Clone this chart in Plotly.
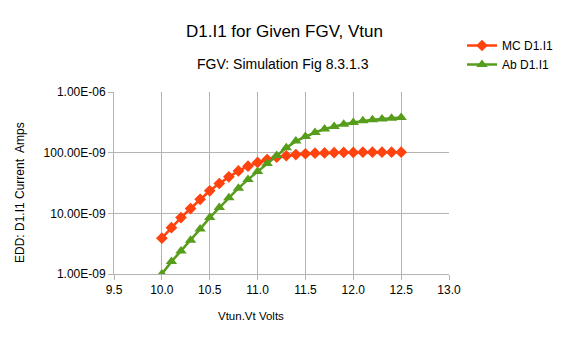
import plotly.graph_objects as go

vtun = [10.0, 10.1, 10.2, 10.3, 10.4, 10.5, 10.6, 10.7, 10.8, 10.9, 11.0, 11.1, 11.2,
        11.3, 11.4, 11.5, 11.6, 11.7, 11.8, 11.9, 12.0, 12.1, 12.2, 12.3, 12.4, 12.5]
mc_i1 = [3.9e-9, 5.8e-9, 8.5e-9, 1.2e-8, 1.7e-8, 2.35e-8, 3.1e-8, 4.0e-8, 5.0e-8, 6.0e-8,
         6.9e-8, 7.7e-8, 8.4e-8, 8.9e-8, 9.3e-8, 9.6e-8, 9.8e-8, 9.9e-8, 1.0e-7, 1.01e-7,
         1.01e-7, 1.02e-7, 1.02e-7, 1.02e-7, 1.02e-7, 1.02e-7]
ab_i1 = [1.0e-9, 1.6e-9, 2.4e-9, 3.6e-9, 5.5e-9, 8.5e-9, 1.25e-8, 1.8e-8, 2.6e-8, 3.6e-8,
         4.9e-8, 6.6e-8, 9.0e-8, 1.2e-7, 1.55e-7, 1.85e-7, 2.15e-7, 2.45e-7, 2.7e-7, 2.95e-7,
         3.15e-7, 3.35e-7, 3.5e-7, 3.6e-7, 3.7e-7, 3.8e-7]
y_tickvals = [1e-9, 1e-8, 1e-7, 1e-6]
y_ticktext = ["1.00E-09", "10.00E-09", "100.00E-09", "1.00E-06"]

FONT = "Liberation Sans, Arial, sans-serif"
grid = "#b3b3b3"

# plot area in pixels
pl, pr, pt, pb = 114, 449, 92, 274


def px_x(x):
    return (x - pl) / (pr - pl)


def px_y(y):
    return (pb - y) / (pb - pt)


fig = go.Figure()
fig.add_trace(go.Scatter(x=vtun, y=mc_i1, name="MC D1.I1", mode="lines+markers",
                         line=dict(color="#ff420e", width=2.5),
                         marker=dict(symbol="diamond", size=9, color="#ff420e")))
fig.add_trace(go.Scatter(x=vtun, y=ab_i1, name="Ab D1.I1", mode="lines+markers",
                         line=dict(color="#579d1c", width=2.5),
                         marker=dict(symbol="triangle-up", size=10, color="#579d1c")))

ann = [
    ("D1.I1 for Given FGV, Vtun", 284, 31, 17, 0),
    ("FGV: Simulation Fig 8.3.1.3", 283, 64, 14, 0),
    ("Vtun.Vt Volts", 251, 316, 11.5, 0),
    ("EDD: D1.I1 Current  Amps", 20, 193, 12, -90),
]
annotations = [dict(text=t, x=px_x(x), y=px_y(y), xref="paper", yref="paper",
                    xanchor="center", yanchor="middle", showarrow=False,
                    textangle=ang, font=dict(size=s))
               for t, x, y, s, ang in ann]

fig.update_layout(
    width=571, height=340,
    margin=dict(l=pl, r=571 - pr, t=pt, b=340 - pb),
    paper_bgcolor="white", plot_bgcolor="white",
    font=dict(family=FONT, size=12, color="#000000"),
    showlegend=True,
    legend=dict(x=px_x(462), y=px_y(31), xanchor="left", yanchor="top",
                font=dict(size=12), itemwidth=30, tracegroupgap=6,
                bgcolor="rgba(0,0,0,0)"),
    annotations=annotations,
)

fig.update_xaxes(range=[9.5, 13.0], dtick=0.5, tick0=9.5, tickformat=".1f",
                 showgrid=True, gridcolor=grid, gridwidth=1,
                 showline=True, linecolor=grid, linewidth=1,
                 ticks="outside", ticklen=5, tickcolor=grid, zeroline=False,
                 tickfont=dict(size=12))
fig.update_yaxes(type="log", range=[-9, -6], tickvals=y_tickvals, ticktext=y_ticktext,
                 showgrid=True, gridcolor=grid, gridwidth=1,
                 showline=True, linecolor=grid, linewidth=1,
                 ticks="outside", ticklen=5, tickcolor=grid, zeroline=False,
                 tickfont=dict(size=12))

fig.write_html("out.html")
